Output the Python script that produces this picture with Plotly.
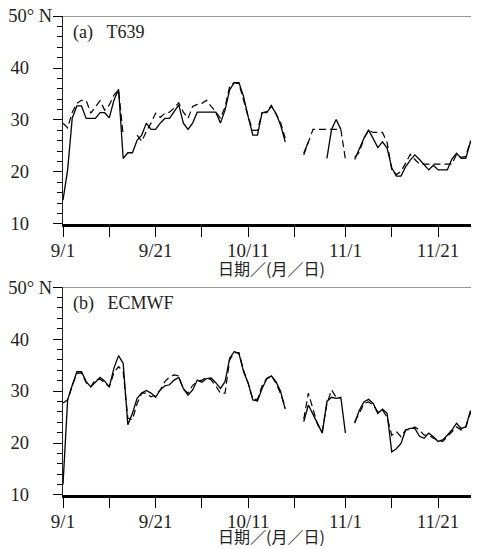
import plotly.graph_objects as go

N = None
days = list(range(91))  # 9/1 .. 11/30 as day index

# Panel (a) T639
a_obs = [14.6, 20.4, 30.4, 32.7, 32.7, 30.3, 30.3, 30.3, 31.4, 31.4,
         30.4, 33.8, 35.9, 22.6, 23.7, 23.7, 26.1, 27.1, 29.4, 28.2,
         28.2, 29.4, 30.3, 30.3, 31.6, 32.9, 29.4, 28.2, 29.4, 31.5,
         31.5, 31.5, 31.5, 31.5, 29.4, 31.9, 35.8, 37.2, 37.2, 34.5,
         30.6, 27.1, 27.1, 31.4, 31.4, 32.6, 31.3, 29.0, 25.8, N,
         N, N, 23.6, 25.8, N, N, N, 22.6, 28.2, 30.1,
         28.2, N, N, 22.4, 24.5, 26.5, 28.1, 26.4, 24.7, 25.8,
         24.6, 20.8, 19.2, 19.2, 21.0, 22.3, 23.3, 22.4, 21.3, 20.4,
         21.3, 20.4, 20.4, 20.4, 22.5, 23.6, 22.6, 22.6, 25.8, 24.8,
         23.0]
a_fc = [29.4, 28.5, 31.5, 33.2, 33.8, 33.8, 31.3, 32.6, 33.7, 31.9,
        32.9, 34.8, 35.8, 27.0, N, N, 27.1, 25.9, 27.8, 29.4,
        31.3, 30.5, 31.3, 31.5, 32.3, 33.3, 31.5, 30.3, 32.6, 33.0,
        33.2, 33.8, 32.6, 31.6, 30.3, 32.5, 36.5, 37.2, 37.0, 33.8,
        30.6, 28.0, 28.0, 31.4, 31.6, 32.8, 31.0, 29.5, 26.5, N,
        N, N, 23.3, 25.6, 28.2, 28.2, 28.2, 28.2, 28.2, 28.2,
        28.2, 22.4, N, 22.8, 23.8, 26.5, 28.0, 27.6, 27.6, 27.6,
        25.7, 20.5, 19.5, 20.1, 21.7, 23.4, 22.4, 21.5, 21.5, 21.5,
        21.5, 21.5, 21.5, 21.5, 21.5, 23.4, 22.8, 23.0, 26.0, 25.0,
        24.0]

# Panel (b) ECMWF
b_obs = [12.0, 28.3, 31.1, 33.7, 33.7, 31.8, 30.8, 31.8, 32.6, 31.9,
         30.8, 34.4, 36.8, 35.3, 23.5, 25.7, 28.6, 29.6, 30.1, 29.6,
         28.8, 30.2, 31.0, 31.2, 32.1, 32.6, 30.5, 29.2, 30.2, 32.1,
         31.7, 32.4, 32.5, 31.6, 30.5, 31.8, 36.3, 37.6, 37.2, 33.7,
         31.5, 28.3, 28.1, 30.5, 32.3, 32.9, 31.8, 29.9, 26.5, N,
         N, N, 24.1, 27.3, 25.5, 23.8, 21.9, 28.0, 28.8, 28.6,
         28.8, 21.9, N, 23.8, 26.3, 27.9, 28.4, 27.6, 25.7, 26.5,
         25.7, 18.3, 18.9, 19.9, 22.5, 22.8, 22.8, 21.3, 20.9, 21.9,
         21.2, 20.3, 20.6, 21.5, 22.5, 23.8, 22.8, 23.1, 26.2, 25.0,
         22.5]
b_fc = [27.7, 28.3, 31.0, 33.4, 33.5, 31.6, 30.8, 32.2, 32.3, 31.6,
        30.8, 33.5, 34.7, 33.7, 24.8, 24.5, 27.6, 29.6, 29.6, 28.9,
        29.2, 30.2, 31.8, 32.7, 33.1, 32.9, 30.3, 29.6, 31.1, 31.8,
        32.1, 32.6, 32.1, 31.0, 29.6, 29.6, 36.0, 37.4, 37.4, 34.0,
        31.5, 28.4, 28.4, 31.0, 32.4, 33.0, 31.5, 29.5, 26.8, N,
        N, N, 24.6, 29.6, 26.5, 23.5, 22.3, 27.5, 30.2, 28.8,
        28.6, N, N, 24.1, 25.7, 27.6, 27.9, 27.3, 26.0, 26.3,
        25.0, 21.5, 22.2, 21.2, 22.5, 22.6, 23.1, 22.5, 21.5, 21.5,
        20.9, 20.6, 20.3, 21.2, 22.2, 23.1, 22.5, 23.1, 25.8, 25.0,
        23.1]

x_tickvals = [0, 10, 20, 30, 40, 50, 61, 71, 81]
x_ticktext = ["9/1", "", "9/21", "", "10/11", "", "11/1", "", "11/21"]
y_tickvals = [10, 20, 30, 40, 50]
nb = "\u00a0"
y_ticktext = ["10" + nb * 5, "20" + nb * 5, "30" + nb * 5, "40" + nb * 5, "50° N"]
panel_titles = ["(a)" + nb * 3 + "T639", "(b)" + nb * 3 + "ECMWF"]
x_title = "日期／(月／日)"

FONT = "Liberation Serif, Noto Sans CJK SC, serif"
CJK = "Noto Sans CJK SC, Liberation Serif"

fig = go.Figure()
for i, (obs, fc) in enumerate([(a_obs, a_fc), (b_obs, b_fc)]):
    xa = "x" if i == 0 else "x2"
    ya = "y" if i == 0 else "y2"
    fig.add_trace(go.Scatter(x=days, y=fc, mode="lines", xaxis=xa, yaxis=ya,
                             line=dict(color="black", width=1.2, dash="7px,4px"),
                             connectgaps=False, showlegend=False))
    fig.add_trace(go.Scatter(x=days, y=obs, mode="lines", xaxis=xa, yaxis=ya,
                             line=dict(color="black", width=1.3),
                             connectgaps=False, showlegend=False))

xcommon = dict(range=[0, 89.85], tickmode="array", tickvals=x_tickvals, ticktext=x_ticktext,
               ticks="outside", ticklen=10, tickwidth=1.2, tickcolor="black",
               showline=True, linecolor="black", linewidth=2.5, showgrid=False, zeroline=False,
               automargin=False, ticklabelstandoff=-3, ticklabeloverflow="allow",
               tickfont=dict(family=FONT, size=19, color="#222"))
ycommon = dict(range=[10, 50], tickmode="array", tickvals=y_tickvals, ticktext=y_ticktext,
               ticks="outside", ticklen=9, tickwidth=1.2, tickcolor="black",
               minor=dict(dtick=2, ticks="outside", ticklen=5, tickwidth=1, tickcolor="black"),
               showline=True, linecolor="#222", linewidth=1.3, showgrid=False, zeroline=False,
               automargin=False, ticklabelstandoff=-3, ticklabeloverflow="allow",
               tickfont=dict(family=FONT, size=18.5, color="#222"))

# page has an 8px body margin; figure sized to fit the 479x549 window
fig.update_layout(
    width=471, height=541,
    margin=dict(l=55, r=0, t=8, b=54, autoexpand=False),
    plot_bgcolor="white", paper_bgcolor="white",
    xaxis=dict(**xcommon, anchor="y", domain=[0, 1]),
    yaxis=dict(**ycommon, anchor="x", domain=[0.5658, 1]),
    xaxis2=dict(**xcommon, anchor="y2", domain=[0, 1]),
    yaxis2=dict(**ycommon, anchor="x2", domain=[0, 0.4342]),
)

for i, ya in enumerate(["y", "y2"]):
    xa = "x" if i == 0 else "x2"
    fig.add_shape(type="line", xref=f"{xa} domain", yref=ya, x0=0, x1=1, y0=50, y1=50,
                  line=dict(color="#777", width=1.5))
    fig.add_annotation(text=panel_titles[i], xref=f"{xa} domain", yref=f"{ya} domain",
                       x=0.02, y=1, xanchor="left", yanchor="top", yshift=-4, showarrow=False,
                       font=dict(family=FONT, size=18, color="#222"))
    fig.add_annotation(text=x_title, xref=f"{xa} domain", yref=f"{ya} domain",
                       x=0.5, y=0, xanchor="center", yanchor="middle",
                       yshift=-44 if i == 0 else -41, showarrow=False,
                       font=dict(family=CJK, size=16, color="#222"))

fig.write_html("out.html")
